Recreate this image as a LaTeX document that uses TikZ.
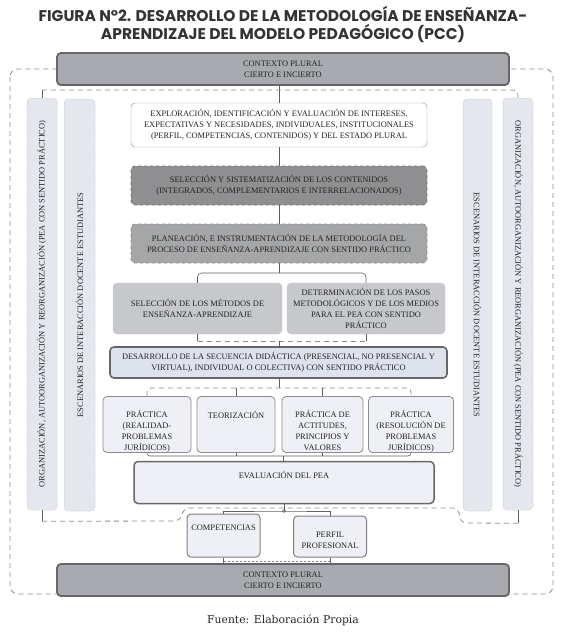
\documentclass[tikz,border=0pt]{standalone}
\usepackage{fontspec}
\setmainfont{Liberation Serif}
\newfontfamily\titlefont{Poppins}
\newfontfamily\srcfont{DejaVu Serif}
\usetikzlibrary{calc}
\definecolor{pcctxt}{RGB}{35,35,35}
\definecolor{pccline}{RGB}{95,95,95}
\definecolor{pccframe}{RGB}{140,140,140}
\definecolor{pccctx}{RGB}{168,170,175}
\definecolor{pccsel}{RGB}{143,143,145}
\definecolor{pccplan}{RGB}{165,166,168}
\definecolor{pccmet}{RGB}{198,200,204}
\definecolor{pccdes}{RGB}{222,226,237}
\definecolor{pcclight}{RGB}{238,240,246}
\definecolor{pcccol}{RGB}{229,231,238}
\newcommand\pcctext{\fontsize{8.4}{11}\selectfont}

\begin{document}
\begin{tikzpicture}[x=1pt,y=-1pt,
  pccbox/.style={draw=pccline,rounded corners=4pt,align=center,font=\pcctext,text=pcctxt,inner sep=2pt},
  ctxbox/.style={pccbox,fill=pccctx,draw=black!60,line width=1.8pt,minimum width=452pt,minimum height=32pt},
  colbox/.style={pccbox,fill=pcccol,draw=black!30,densely dotted,line width=0.5pt,minimum width=412pt,minimum height=30pt},
  mainbox/.style={pccbox,minimum width=296pt,minimum height=40pt},
  metbox/.style={pccbox,fill=pccmet,draw=pccmet,minimum height=51pt},
  tinybox/.style={pccbox,fill=pcclight,draw=black!45,line width=0.8pt,minimum height=56pt,
    text height=52pt,text depth=0pt},
  pcclink/.style={draw=pccline,line width=0.6pt},
  pccdash/.style={draw=pccframe,line width=0.8pt,dash pattern=on 5pt off 4pt}
]
  \useasboundingbox (0,0) rectangle (566,637);
  % title
  \node[font=\titlefont\bfseries\fontsize{15.5}{18}\selectfont,text=black!80,align=center] (title) at (283,25)
    {FIGURA N°2. DESARROLLO DE LA METODOLOGÍA DE ENSEÑANZA-\\APRENDIZAJE DEL MODELO PEDAGÓGICO (PCC)};
  % outer frame
  \draw[pccdash,rounded corners=8pt] (10,69) rectangle (553,594);
  % context
  \node[ctxbox] (ctxtop) at (283,69) {CONTEXTO PLURAL\\CIERTO E INCIERTO};
  \node[ctxbox] (ctxbot) at (283,580) {CONTEXTO PLURAL\\CIERTO E INCIERTO};
  % side columns
  \node[colbox,rotate=90] (orgL) at (42,304) {ORGANIZACIÓN, AUTOORGANIZACIÓN Y REORGANIZACIÓN (PEA CON SENTIDO PRÁCTICO)};
  \node[colbox,rotate=90,minimum height=31pt] (escL) at (79.5,305) {ESCENARIOS DE INTERACCIÓN DOCENTE ESTUDIANTES};
  \node[colbox,rotate=-90,minimum height=29pt] (escR) at (477.5,305) {ESCENARIOS DE INTERACCIÓN DOCENTE ESTUDIANTES};
  \node[colbox,rotate=-90] (orgR) at (518,304) {ORGANIZACIÓN, AUTOORGANIZACIÓN Y REORGANIZACIÓN (PEA CON SENTIDO PRÁCTICO)};
  % central column
  \node[mainbox,fill=white,draw=black!45,minimum height=44pt] (explor) at (279,125)
    {EXPLORACIÓN, IDENTIFICACIÓN Y EVALUACIÓN DE INTERESES,\\EXPECTATIVAS Y NECESIDADES, INDIVIDUALES, INSTITUCIONALES\\(PERFIL, COMPETENCIAS, CONTENIDOS) Y DEL ESTADO PLURAL};
  \node[mainbox,fill=pccsel,draw=black!55,dashed,line width=0.8pt,minimum height=39pt] (selec) at (279,185.5)
    {SELECCIÓN Y SISTEMATIZACIÓN DE LOS CONTENIDOS\\(INTEGRADOS, COMPLEMENTARIOS E INTERRELACIONADOS)};
  \node[mainbox,fill=pccplan,draw=black!45,dashed,line width=0.8pt,minimum height=39pt] (plan) at (279,243.5)
    {PLANEACIÓN, E INSTRUMENTACIÓN DE LA METODOLOGÍA DEL\\PROCESO DE ENSEÑANZA-APRENDIZAJE CON SENTIDO PRÁCTICO};
  \node[metbox,minimum width=169pt] (metod) at (197.5,308.5) {SELECCIÓN DE LOS MÉTODOS DE\\ENSEÑANZA-APRENDIZAJE};
  \node[metbox,minimum width=158pt] (determ) at (366,308.5)
    {DETERMINACIÓN DE LOS PASOS\\METODOLÓGICOS Y DE LOS MEDIOS\\PARA EL PEA CON SENTIDO\\PRÁCTICO};
  \node[pccbox,fill=pccdes,draw=black!60,line width=1.6pt,minimum width=337pt,minimum height=31pt] (desarr) at (278.5,362.5)
    {DESARROLLO DE LA SECUENCIA DIDÁCTICA (PRESENCIAL, NO PRESENCIAL Y\\VIRTUAL), INDIVIDUAL O COLECTIVA) CON SENTIDO PRÁCTICO};
  % four activities
  \node[tinybox,minimum width=88pt] (pract1) at (147,424.5) {PRÁCTICA\\(REALIDAD-\\PROBLEMAS\\JURÍDICOS)};
  \node[tinybox,minimum width=78pt,text height=20pt,text depth=32pt] (teor) at (236,424.5) {TEORIZACIÓN};
  \node[tinybox,minimum width=81pt] (actit) at (322.5,424.5) {PRÁCTICA DE\\ACTITUDES,\\PRINCIPIOS Y\\VALORES};
  \node[tinybox,minimum width=85pt] (pract4) at (411,424.5) {PRÁCTICA\\(RESOLUCIÓN DE\\PROBLEMAS\\JURÍDICOS)};
  \node[pccbox,fill=pcclight,draw=black!60,line width=1.5pt,minimum width=300pt,minimum height=42pt,
    text height=13pt,text depth=22pt,inner ysep=3.5pt] (evalua) at (284,482.5) {EVALUACIÓN DEL PEA};
  \node[pccbox,fill=pcclight,draw=black!50,line width=1pt,minimum width=73pt,minimum height=43pt,
    text height=13pt,text depth=24pt,inner ysep=3pt] (compet) at (223.5,535.5) {COMPETENCIAS};
  \node[pccbox,fill=pcclight,draw=black!50,line width=1pt,minimum width=73pt,minimum height=41pt,
    text height=29pt,text depth=6pt,inner ysep=3pt] (perfil) at (330,536.5) {PERFIL\\PROFESIONAL};
  % connectors
  \coordinate (jmet) at (279,273);
  \coordinate (jdes) at (279,341);
  \coordinate (jact) at (279,388);
  \coordinate (jeva) at (283,456);
  \coordinate (jout) at (284,511);
  \draw[pcclink] (ctxtop.south -| explor.north) -- (explor.north);
  \draw[pcclink] (explor.south) -- (selec.north);
  \draw[pcclink] (selec.south) -- (plan.north);
  \draw[pcclink] (plan.south) -- (jmet);
  \draw[pcclink,rounded corners=4pt] (metod.north) |- (jmet) -| (determ.north);
  \draw[pcclink] (metod.south) -- (metod.south |- jdes);
  \draw[pcclink] (determ.south) -- (determ.south |- jdes);
  \draw[pccdash] (metod.south |- jdes) -- (determ.south |- jdes);
  \draw[pcclink] (jdes) -- (desarr.north -| jdes);
  \draw[pcclink] (desarr.south -| jact) -- (jact);
  \draw[pccdash,rounded corners=4pt] (pract1.north) |- (jact) -| (pract4.north);
  \draw[pcclink] (teor.north) -- (teor.north |- jact);
  \draw[pcclink] (actit.north) -- (actit.north |- jact);
  \draw[pcclink,rounded corners=3pt] (pract1.south) |- (jeva) -| (pract4.south);
  \draw[pcclink] (teor.south) -- (teor.south |- jeva);
  \draw[pcclink] (actit.south) -- (actit.south |- jeva);
  \draw[pcclink] (jeva) -- (evalua.north -| jeva);
  \draw[pcclink] (evalua.south -| jout) -- (jout);
  \draw[pcclink] (compet.north) |- (jout) -| (perfil.north);
  \draw[pcclink] (jout) circle (1.5pt);
  \draw[pcclink] (compet.south) -- (compet.south |- ctxbot.north);
  \draw[pcclink] (perfil.south) -- (perfil.south |- ctxbot.north);
  \draw[pccdash,line width=0.5pt,dash pattern=on 2pt off 2pt] ($(compet.south |- ctxbot.north)+(0,-2)$) -- ($(perfil.south |- ctxbot.north)+(0,-2)$);
  % inner frame
  \coordinate (intop) at (283,90);
  \draw[pcclink] (orgL.east) -- (orgL.east |- intop);
  \draw[pccdash,rounded corners=5pt] (orgL.east |- intop) -- (orgR.west |- intop) -- (orgR.west);
  \draw[pcclink] (orgL.west) -- ++(0,11);
  \draw[pccdash,rounded corners=5pt] ($(orgL.west)+(0,11)$) -- (180,521) -- (184,508) -- (458,508) -- (461,523) -- ($(orgR.east)+(0,13)$);
  \draw[pcclink] (orgR.east) -- ++(0,13);
  % source
  \node[font=\srcfont\fontsize{10.8}{12}\selectfont,text=black!85] (fuente) at (283,620) {Fuente: Elaboración Propia};
\end{tikzpicture}
\end{document}
